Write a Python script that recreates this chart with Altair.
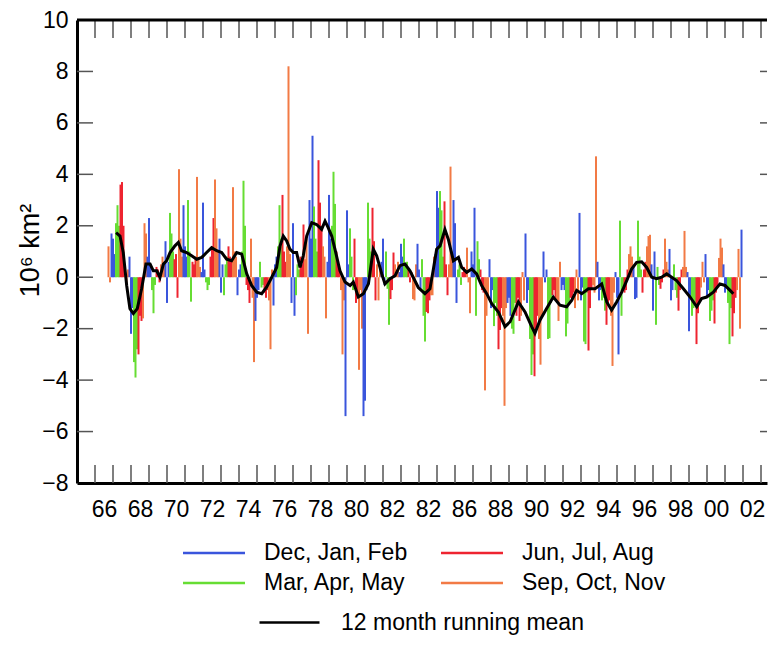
import altair as alt
import pandas as pd

# ---------------- data (10^6 km^2 anomalies) -------------
y1966 = [1.2, -0.2, 1.7]  # Oct-Dec
y1967 = [1.5, 0.9, 2.1, 2.8, 2.0, 3.6, 3.7, 2.0, 0.5, -0.3, 0.3, 0.8]
y1968 = [-2.2, -1.2, -3.3, -3.9, -2.8, -3.0, -1.5, -1.7, -1.6, 2.1, 1.7, 0.8]
y1969 = [2.3, 0.5, -0.5, -1.4, -0.3, 0.4, 0.3, -0.2, 0.5, 0.8, 0.6, 1.4]
y1970 = [-1.0, 0.6, 2.5, 1.7, 1.0, 0.7, 0.9, -0.8, 4.2, 1.5, 0.8, 2.8]
y1971 = [1.2, 0.8, 3.0, 1.0, -0.95, 0.6, 0.5, 0.8, 3.9, 0.7, 0.4, 0.2]
y1972 = [2.9, 0.3, -0.2, -0.5, -0.3, 0.8, 1.2, 2.3, 3.8, 1.9, 1.0, 1.5]
y1973 = [-0.6, 0.5, -0.7, 0.5, 0.8, 1.2, 0.8, 0.6, 3.5, 1.0, 0.8, -0.7]
y1974 = [0.3, 0.5, 1.0, 3.75, 2.0, -0.3, -0.5, -1.0, 1.5, -0.8, -3.3, -1.7]
y1975 = [-0.8, -0.5, 0.6, -0.4, -0.3, -0.6, -0.8, -0.5, -0.9, -2.8, 0.3, -1.1]
y1976 = [0.5, 0.8, 1.2, 2.8, 1.5, 3.2, 1.0, 0.6, 1.2, 8.2, 0.9, -1.0]
y1977 = [2.1, -1.5, -0.7, 0.5, 0.3, 0.8, 0.5, 2.05, 0.7, 1.5, -2.2, 3.0]
y1978 = [1.5, 5.5, 2.75, 1.5, 1.0, 4.55, 2.9, 2.0, 1.2, 0.8, -1.6, 0.6]
y1979 = [3.2, 1.5, 2.0, 4.1, 2.85, 1.0, 0.5, 0.3, -0.5, -3.0, -0.9, -5.4]
y1980 = [2.6, 0.5, 1.9, 0.8, -0.5, 1.5, -1.0, -0.6, -3.6, -0.5, -2.0, -5.4]
y1981 = [-4.8, -0.5, 2.9, 1.5, 1.0, 2.7, 1.4, -0.9, 0.5, -0.9, 0.3, 0.6]
y1982 = [1.5, -0.3, 1.0, -0.45, -1.85, -0.85, -0.5, 0.96, 0.5, 0.3, 0.6, 0.2]
y1983 = [1.3, 0.8, 1.5, 0.5, 0.6, 0.3, -0.2, 0.2, -0.85, -0.9, 0.5, 1.3]
y1984 = [0.3, -0.5, 0.7, -1.5, -2.5, -1.35, -1.4, -0.9, -0.7, -0.7, 0.8, 0.9]
y1985 = [3.35, 2.7, 3.35, 2.6, 0.8, 2.95, 0.5, -0.7, 0.5, 4.3, 1.0, 3.0]
y1986 = [2.1, -1.0, 0.3, 0.5, -0.3, 0.2, 0.4, 0.3, 1.15, -0.2, -1.4, 1.0]
y1987 = [0.5, 2.7, -1.5, 1.4, 0.7, 0.3, -0.5, -0.6, -4.4, -1.5, -0.8, 0.7]
y1988 = [-1.2, -0.5, -1.9, -1.0, -1.5, -2.8, -2.05, -1.2, -1.5, -5.0, -1.2, -1.0]
y1989 = [-0.8, -1.5, -2.0, -2.2, -1.0, -1.5, -0.8, -1.7, -1.5, 0.2, -0.9, 1.7]
y1990 = [-1.0, -0.5, -2.4, -3.8, -3.0, -3.85, -2.0, -1.5, -2.4, -3.4, -1.5, 1.0]
y1991 = [-0.2, 0.3, -2.4, -2.37, -1.0, -0.7, -0.5, -0.8, -1.0, -1.7, 0.6, -0.5]
y1992 = [-0.3, -0.5, -2.3, -1.8, -1.0, -0.8, -0.9, -0.6, -1.2, 0.3, -0.9, 2.5]
y1993 = [-0.9, -0.4, -2.5, -2.6, -0.6, -2.85, -1.2, -0.5, -0.3, -0.6, 4.7, 0.6]
y1994 = [-0.9, -0.5, -0.9, -0.8, -1.3, -1.85, -1.0, -0.9, -1.5, -3.45, -0.6, 0.2]
y1995 = [-0.8, -3.0, 2.2, -1.5, -0.4, -0.6, -0.5, 0.3, 0.9, 1.2, 0.8, 0.4]
y1996 = [-0.85, -0.8, 2.2, 0.8, 0.3, -0.6, 0.3, 0.6, 1.2, 1.6, 1.65, 0.5]
y1997 = [-1.3, 1.0, -1.85, 0.4, -0.3, -0.45, -0.2, 0.3, 1.5, 0.6, 0.3, 1.1]
y1998 = [-0.9, -0.5, 0.5, -0.5, -0.8, -1.3, -0.5, 0.3, 0.4, 1.8, 0.4, 0.2]
y1999 = [-2.1, -0.8, -1.5, -1.2, -1.0, -2.6, -1.4, -0.9, -0.4, 0.6, -0.2, 0.9]
y2000 = [-0.8, -0.5, -1.7, -1.3, -0.9, -1.8, -0.6, -0.3, 0.75, 1.5, 1.15, 0.5]
y2001 = [-0.6, -0.4, -1.0, -2.6, -1.2, -2.3, -1.4, -0.8, -0.5, 1.1, -2.0, 1.85]

# 12 month running mean
mean_t = [1967.17, 1967.39, 1967.57, 1967.76, 1967.94, 1968.13, 1968.35, 1968.59, 1968.83,
          1969.06, 1969.24, 1969.43, 1969.61, 1969.80, 1969.98, 1970.17, 1970.44, 1970.63,
          1970.81, 1971.09, 1971.37, 1971.65, 1971.93, 1972.20, 1972.48, 1972.76, 1973.04,
          1973.31, 1973.59, 1973.87, 1974.15, 1974.43, 1974.70, 1974.98, 1975.26, 1975.54,
          1975.82, 1976.09, 1976.28, 1976.46, 1976.65, 1976.83, 1977.02, 1977.20, 1977.39,
          1977.57, 1977.76, 1978.04, 1978.31, 1978.59, 1978.78, 1978.96, 1979.15, 1979.33,
          1979.61, 1979.89, 1980.17, 1980.35, 1980.63, 1980.91, 1981.19, 1981.46, 1981.65,
          1981.93, 1982.11, 1982.39, 1982.67, 1982.94, 1983.22, 1983.50, 1983.96, 1984.33,
          1984.61, 1984.80, 1984.98, 1985.17, 1985.44, 1985.63, 1985.91, 1986.19, 1986.37,
          1986.65, 1986.93, 1987.20, 1987.48, 1987.76, 1988.04, 1988.41, 1988.78, 1989.06,
          1989.52, 1989.89, 1990.26, 1990.44, 1990.72, 1991.09, 1991.46, 1991.83, 1992.20,
          1992.48, 1992.76, 1993.04, 1993.41, 1993.78, 1994.15, 1994.43, 1994.70, 1994.98,
          1995.26, 1995.54, 1995.81, 1996.09, 1996.37, 1996.65, 1996.93, 1997.20, 1997.48,
          1997.76, 1998.04, 1998.31, 1998.69, 1999.06, 1999.43, 1999.70, 1999.98, 2000.35,
          2000.72, 2001.00, 2001.28, 2001.46]
mean_v = [1.73, 1.60, 0.96, -0.32, -1.22, -1.41, -1.22, -0.45, 0.51,
          0.51, 0.25, 0.25, 0.0, 0.51, 0.64, 0.96, 1.22, 1.35,
          1.03, 0.96, 0.83, 0.70, 0.77, 0.96, 1.15, 1.03, 0.96,
          0.70, 0.64, 0.96, 0.90, 0.13, -0.32, -0.58, -0.64, -0.38,
          0.0, 0.38, 1.22, 1.60, 1.41, 1.09, 0.96, 0.96, 0.38,
          0.83, 1.60, 2.12, 2.05, 1.86, 2.18, 1.92, 1.60, 1.09,
          0.25, -0.19, -0.32, -0.19, -0.77, -0.64, -0.26, 1.09, 0.83,
          0.13, -0.26, -0.06, 0.06, 0.45, 0.51, 0.25, -0.40, -0.64,
          -0.45, 0.32, 1.09, 1.22, 1.86, 1.47, 0.64, 0.77, 0.38,
          0.19, 0.32, 0.13, -0.32, -0.64, -1.03, -1.35, -1.92, -1.73,
          -0.96, -1.35, -1.92, -2.18, -1.67, -1.22, -0.77, -1.09, -1.15,
          -0.90, -0.51, -0.64, -0.45, -0.45, -0.26, -0.96, -1.28, -0.96,
          -0.58, -0.13, 0.32, 0.58, 0.60, 0.38, 0.0, -0.06, 0.0,
          0.13, 0.0, -0.13, -0.45, -0.77, -1.15, -0.83, -0.77, -0.58,
          -0.26, -0.32, -0.51, -0.64]

# legend is filled column by column: DJF, MAM | JJA, SON
seasons = ["Dec, Jan, Feb", "Mar, Apr, May", "Jun, Jul, Aug", "Sep, Oct, Nov"]
season_colors = ["#3a55dc", "#66dd33", "#ee2430", "#f27a45"]
x_tick_labels = ["66", "68", "70", "72", "74", "76", "78", "80", "82", "82",
                 "86", "88", "90", "92", "94", "96", "98", "00", "02"]
y_tick_values = [-8, -6, -4, -2, 0, 2, 4, 6, 8, 10]
tick_years = list(range(1966, 2004))
mean_label = "12 month running mean"

# ---------------- build tables ----------------
year_lists = [(1966, 10, y1966), (1967, 1, y1967), (1968, 1, y1968), (1969, 1, y1969),
              (1970, 1, y1970), (1971, 1, y1971), (1972, 1, y1972), (1973, 1, y1973),
              (1974, 1, y1974), (1975, 1, y1975), (1976, 1, y1976), (1977, 1, y1977),
              (1978, 1, y1978), (1979, 1, y1979), (1980, 1, y1980), (1981, 1, y1981),
              (1982, 1, y1982), (1983, 1, y1983), (1984, 1, y1984), (1985, 1, y1985),
              (1986, 1, y1986), (1987, 1, y1987), (1988, 1, y1988), (1989, 1, y1989),
              (1990, 1, y1990), (1991, 1, y1991), (1992, 1, y1992), (1993, 1, y1993),
              (1994, 1, y1994), (1995, 1, y1995), (1996, 1, y1996), (1997, 1, y1997),
              (1998, 1, y1998), (1999, 1, y1999), (2000, 1, y2000), (2001, 1, y2001)]


def season_of(m):
    if m in (12, 1, 2):
        return "Dec, Jan, Feb"
    if m in (3, 4, 5):
        return "Mar, Apr, May"
    if m in (6, 7, 8):
        return "Jun, Jul, Aug"
    return "Sep, Oct, Nov"


rows = []
for yr, m0, vals in year_lists:
    for i, v in enumerate(vals):
        m = m0 + i
        rows.append({"t": yr + (m - 1) / 12.0, "v": v, "season": season_of(m)})
bars_df = pd.DataFrame(rows)
mean_df = pd.DataFrame({"t": mean_t, "v": mean_v, "name": mean_label})
ticks_df = pd.DataFrame({"t": tick_years})
yticks_df = pd.DataFrame({"v": y_tick_values[1:-1]})

W, H = 690, 463
FONT = "Liberation Sans"
xscale = alt.Scale(domain=[1965, 2003.333], nice=False, zero=False)
yscale = alt.Scale(domain=[-8, 10], nice=False, zero=False)

label_pos = [1966.5 + 2 * i for i in range(len(x_tick_labels))]
label_expr = "[" + ",".join("'%s'" % s for s in x_tick_labels) + "][round((datum.value - 1966.5) / 2)]"

xaxis = alt.Axis(values=label_pos, labelExpr=label_expr, ticks=False, grid=False,
                 domainWidth=3, domainColor="black", labelPadding=15,
                 labelFontSize=23, labelFlush=False, labelOverlap=False,
                 labelColor="black", title=None)
yaxis = alt.Axis(values=y_tick_values, ticks=False, grid=False, domainWidth=3,
                 domainColor="black", labelPadding=9, labelFontSize=23,
                 labelFlush=False, labelOverlap=False, labelColor="black",
                 title="10⁶ km²", titleFontSize=27, titleFontWeight="normal",
                 titleColor="black", titleX=-47, titleY=230, titleAngle=270,
                 titleAlign="center", titleBaseline="middle")

X = alt.X("t:Q", scale=xscale, axis=xaxis)
Y = alt.Y("v:Q", scale=yscale, axis=yaxis)

# short custom stroke symbol: drawn 3x longer than its layout size
SYM = "M-3,0H3"

bars = alt.Chart(bars_df).mark_rule(strokeWidth=2).encode(
    x=X, y=Y, y2=alt.datum(0),
    color=alt.Color("season:N", scale=alt.Scale(domain=seasons, range=season_colors),
                    legend=alt.Legend(orient="none", legendX=125, legendY=521, columns=2,
                                      title=None, symbolType=SYM, symbolSize=427,
                                      symbolStrokeWidth=2.5, labelOffset=38,
                                      labelFontSize=23, labelLimit=400, columnPadding=28,
                                      rowPadding=6, padding=0, labelColor="black")),
)

mean_line = alt.Chart(mean_df).mark_line(strokeWidth=3).encode(
    x=X, y=Y,
    stroke=alt.Stroke("name:N", scale=alt.Scale(domain=[mean_label], range=["black"]),
                      legend=alt.Legend(orient="none", legendX=201, legendY=591, title=None,
                                        symbolType=SYM, symbolSize=400,
                                        symbolStrokeWidth=2.5, labelOffset=40,
                                        labelFontSize=23, labelLimit=400, padding=0,
                                        labelColor="black")),
)

top_ticks = alt.Chart(ticks_df).mark_rule(color="#555", strokeWidth=1.5).encode(
    x=X, y=alt.value(0), y2=alt.value(18))
bottom_ticks = alt.Chart(ticks_df).mark_rule(color="#555", strokeWidth=1.5).encode(
    x=X, y=alt.value(H), y2=alt.value(H - 18))
left_ticks = alt.Chart(yticks_df).mark_rule(color="#555", strokeWidth=1.5).encode(
    y=Y, x=alt.value(0), x2=alt.value(16))
right_ticks = alt.Chart(yticks_df).mark_rule(color="#555", strokeWidth=1.5).encode(
    y=Y, x=alt.value(W - 7), x2=alt.value(W))
top_border = alt.Chart(ticks_df.head(1)).mark_rule(color="black", strokeWidth=3).encode(
    x=alt.value(0), x2=alt.value(W), y=alt.value(0))

chart = alt.layer(bars, mean_line, top_ticks, bottom_ticks, left_ticks, right_ticks,
                  top_border).properties(
    width=W, height=H,
    padding={"left": 69, "top": 12, "right": 1, "bottom": 155},
    autosize=alt.AutoSizeParams(type="none"),
).configure(font=FONT).configure_view(stroke=None).configure_axis(
    labelFont=FONT, titleFont=FONT).configure_legend(labelFont=FONT)

chart.save("out.html", embed_options={"renderer": "svg", "actions": False})
